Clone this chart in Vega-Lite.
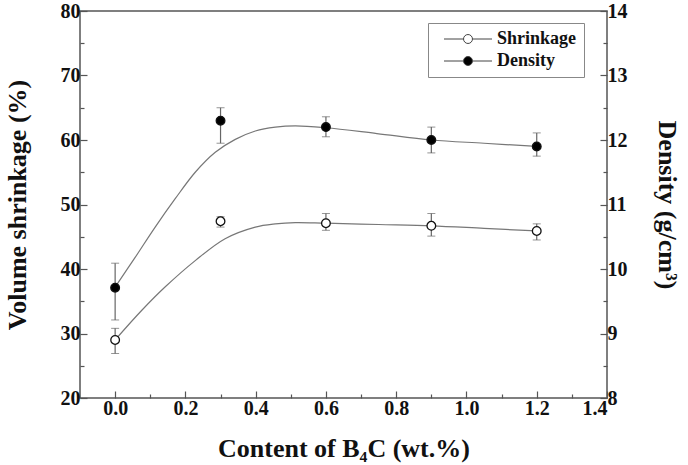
{
  "$schema": "https://vega.github.io/schema/vega-lite/v6.json",
  "width": 527,
  "height": 387,
  "autosize": "none",
  "padding": {"left": 80, "top": 11, "right": 81, "bottom": 67},
  "background": "white",
  "config": {
    "view": {"stroke": "#555", "strokeWidth": 1.5},
    "font": "Liberation Serif",
    "axis": {
      "domain": false,
      "grid": false,
      "tickColor": "#555",
      "tickWidth": 1.2,
      "labelFont": "Liberation Serif",
      "labelFontWeight": "bold",
      "labelFontSize": 20,
      "labelColor": "#111",
      "titleFont": "Liberation Serif",
      "titleFontWeight": "bold",
      "titleFontSize": 26,
      "titleColor": "#111"
    }
  },
  "datasets": {
    "points": [
      {"series": "Shrinkage", "x": 0.0, "value": 29.0, "lo": 26.9, "hi": 30.8},
      {"series": "Shrinkage", "x": 0.3, "value": 47.4, "lo": 46.5, "hi": 48.1},
      {"series": "Shrinkage", "x": 0.6, "value": 47.1, "lo": 46.0, "hi": 48.6},
      {"series": "Shrinkage", "x": 0.9, "value": 46.7, "lo": 45.1, "hi": 48.6},
      {"series": "Shrinkage", "x": 1.2, "value": 45.9, "lo": 44.5, "hi": 47.0},
      {"series": "Density", "x": 0.0, "value": 9.71, "lo": 9.21, "hi": 10.09},
      {"series": "Density", "x": 0.3, "value": 12.3, "lo": 11.95, "hi": 12.5},
      {"series": "Density", "x": 0.6, "value": 12.2, "lo": 12.05, "hi": 12.36},
      {"series": "Density", "x": 0.9, "value": 12.0, "lo": 11.8, "hi": 12.2},
      {"series": "Density", "x": 1.2, "value": 11.9, "lo": 11.75, "hi": 12.11}
    ],
    "curves": [
      {"series": "Shrinkage", "x": 0.0, "value": 29.0},
      {"series": "Shrinkage", "x": 0.076, "value": 33.6},
      {"series": "Shrinkage", "x": 0.142, "value": 37.2},
      {"series": "Shrinkage", "x": 0.228, "value": 41.3},
      {"series": "Shrinkage", "x": 0.313, "value": 44.7},
      {"series": "Shrinkage", "x": 0.399, "value": 46.5},
      {"series": "Shrinkage", "x": 0.456, "value": 47.0},
      {"series": "Shrinkage", "x": 0.513, "value": 47.2},
      {"series": "Shrinkage", "x": 0.6, "value": 47.1},
      {"series": "Shrinkage", "x": 0.75, "value": 46.9},
      {"series": "Shrinkage", "x": 0.9, "value": 46.7},
      {"series": "Shrinkage", "x": 1.05, "value": 46.3},
      {"series": "Shrinkage", "x": 1.2, "value": 45.9},
      {"series": "Density", "x": 0.0, "value": 9.72},
      {"series": "Density", "x": 0.057, "value": 10.18},
      {"series": "Density", "x": 0.114, "value": 10.65},
      {"series": "Density", "x": 0.171, "value": 11.09},
      {"series": "Density", "x": 0.228, "value": 11.5},
      {"series": "Density", "x": 0.285, "value": 11.81},
      {"series": "Density", "x": 0.342, "value": 12.01},
      {"series": "Density", "x": 0.399, "value": 12.14},
      {"series": "Density", "x": 0.456, "value": 12.2},
      {"series": "Density", "x": 0.513, "value": 12.22},
      {"series": "Density", "x": 0.6, "value": 12.19},
      {"series": "Density", "x": 0.745, "value": 12.1},
      {"series": "Density", "x": 0.9, "value": 12.0},
      {"series": "Density", "x": 1.05, "value": 11.95},
      {"series": "Density", "x": 1.2, "value": 11.9}
    ]
  },
  "encoding": {
    "x": {
      "field": "x",
      "type": "quantitative",
      "title": "Content of B₄C (wt.%)",
      "scale": {"domain": [-0.1, 1.4], "nice": false, "zero": false},
      "axis": {
        "values": [0, 0.1, 0.2, 0.3, 0.4, 0.5, 0.6, 0.7, 0.8, 0.9, 1.0, 1.1, 1.2, 1.3, 1.4],
        "labelExpr": "round(datum.value*10) % 2 === 0 ? format(datum.value, '.1f') : ''",
        "tickSize": {"condition": {"test": "round(datum.value*10) % 2 === 0", "value": -7}, "value": -4},
        "labelPadding": 7,
        "titlePadding": 17
      }
    }
  },
  "layer": [
    {
      "encoding": {
        "y": {
          "field": "value",
          "type": "quantitative",
          "title": "Volume shrinkage (%)",
          "scale": {"domain": [20, 80], "nice": false, "zero": false},
          "axis": {
            "orient": "left",
            "values": [20, 25, 30, 35, 40, 45, 50, 55, 60, 65, 70, 75, 80],
            "labelExpr": "datum.value % 10 === 0 ? datum.value : ''",
            "tickSize": {"condition": {"test": "datum.value % 10 === 0", "value": -7}, "value": -4},
            "labelPadding": 7,
            "titlePadding": 30
          }
        }
      },
      "layer": [
        {
          "data": {"name": "curves"},
          "transform": [{"filter": "datum.series === 'Shrinkage'"}],
          "mark": {"type": "line", "interpolate": "catmull-rom", "stroke": "#777", "strokeWidth": 1.2}
        },
        {
          "data": {"name": "points"},
          "transform": [{"filter": "datum.series === 'Shrinkage'"}],
          "mark": {"type": "errorbar", "ticks": {"size": 8, "color": "#666"}, "rule": {"color": "#666", "strokeWidth": 1.2}},
          "encoding": {
            "y": {"field": "lo", "type": "quantitative", "title": "Volume shrinkage (%)"},
            "y2": {"field": "hi"}
          }
        },
        {
          "data": {"name": "points"},
          "transform": [{"filter": "datum.series === 'Shrinkage'"}],
          "mark": {"type": "point", "filled": true, "size": 75, "stroke": "#111", "strokeWidth": 1.3, "opacity": 1},
          "encoding": {
            "fill": {
              "field": "series",
              "type": "nominal",
              "scale": {"domain": ["Shrinkage", "Density"], "range": ["white", "black"]},
              "legend": {
                "title": null,
                "orient": "none",
                "legendX": 348,
                "legendY": 12,
                "symbolType": "M-3,0H-0.56M0.56,0H3M0.56,0A0.56,0.56,0,1,1,-0.56,0A0.56,0.56,0,1,1,0.56,0Z",
                "symbolSize": 256,
                "symbolStrokeColor": "#444",
                "symbolStrokeWidth": 1,
                "symbolOffset": 24,
                "labelOffset": 20,
                "labelFont": "Liberation Serif",
                "labelFontSize": 18,
                "labelFontWeight": "bold",
                "labelColor": "#111",
                "strokeColor": "#888",
                "fillColor": "white",
                "padding": 7,
                "rowPadding": 4
              }
            }
          }
        }
      ]
    },
    {
      "encoding": {
        "y": {
          "field": "value",
          "type": "quantitative",
          "title": "Density (g/cm³)",
          "scale": {"domain": [8, 14], "nice": false, "zero": false},
          "axis": {
            "orient": "right",
            "values": [8, 8.5, 9, 9.5, 10, 10.5, 11, 11.5, 12, 12.5, 13, 13.5, 14],
            "labelExpr": "datum.value % 1 === 0 ? datum.value : ''",
            "tickSize": {"condition": {"test": "datum.value % 1 === 0", "value": -7}, "value": -4},
            "labelPadding": 7,
            "titlePadding": 26
          }
        }
      },
      "layer": [
        {
          "data": {"name": "curves"},
          "transform": [{"filter": "datum.series === 'Density'"}],
          "mark": {"type": "line", "interpolate": "catmull-rom", "stroke": "#777", "strokeWidth": 1.2}
        },
        {
          "data": {"name": "points"},
          "transform": [{"filter": "datum.series === 'Density'"}],
          "mark": {"type": "errorbar", "ticks": {"size": 8, "color": "#666"}, "rule": {"color": "#666", "strokeWidth": 1.2}},
          "encoding": {
            "y": {"field": "lo", "type": "quantitative", "title": "Density (g/cm³)"},
            "y2": {"field": "hi"}
          }
        },
        {
          "data": {"name": "points"},
          "transform": [{"filter": "datum.series === 'Density'"}],
          "mark": {"type": "point", "filled": true, "size": 75, "stroke": "#111", "strokeWidth": 1.3, "opacity": 1},
          "encoding": {
            "fill": {
              "field": "series",
              "type": "nominal",
              "scale": {"domain": ["Shrinkage", "Density"], "range": ["white", "black"]}
            }
          }
        }
      ]
    }
  ],
  "resolve": {"scale": {"y": "independent"}}
}
